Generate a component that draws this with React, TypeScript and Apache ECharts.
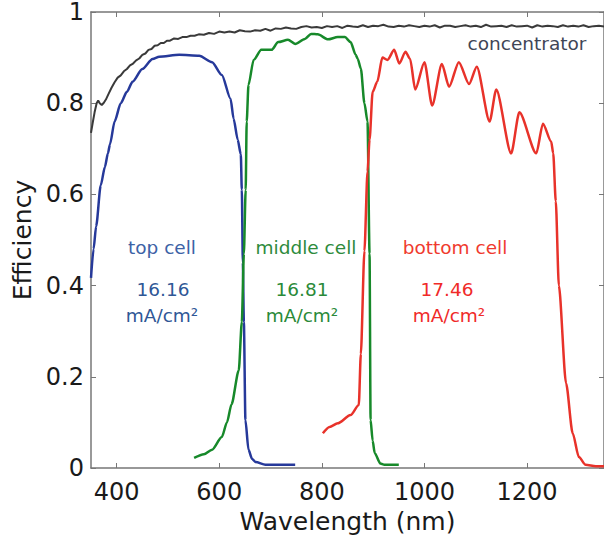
import React, { useEffect, useRef } from "react";
import * as echarts from "echarts";

const xTicks = [400, 600, 800, 1000, 1200];
const yTicks = [0, 0.2, 0.4, 0.6, 0.8, 1];

const concentrator: [number, number][] = [
  [350, 0.735], [353, 0.755], [357, 0.78], [361, 0.8], [364, 0.806], [367, 0.8], [371, 0.796],
  [375, 0.801], [379, 0.808], [384, 0.82], [390, 0.834], [396, 0.846], [402, 0.856], [408, 0.861],
  [414, 0.87], [420, 0.875], [426, 0.883], [432, 0.887], [438, 0.894], [444, 0.898], [450, 0.906],
  [456, 0.909], [462, 0.917], [468, 0.919], [474, 0.926], [480, 0.927], [486, 0.932], [492, 0.932],
  [498, 0.937], [504, 0.937], [512, 0.942], [520, 0.941], [528, 0.945], [536, 0.945], [544, 0.948],
  [552, 0.948], [560, 0.951], [570, 0.95], [580, 0.954], [590, 0.952], [600, 0.957], [610, 0.955],
  [620, 0.957], [630, 0.955], [640, 0.96], [650, 0.958], [660, 0.957], [670, 0.96], [680, 0.959],
  [690, 0.963], [700, 0.959], [710, 0.964], [720, 0.963], [730, 0.966], [740, 0.964], [750, 0.963],
  [760, 0.967], [770, 0.969], [780, 0.966], [790, 0.967], [800, 0.965], [810, 0.969], [820, 0.967],
  [830, 0.969], [840, 0.965], [850, 0.97], [860, 0.968], [870, 0.967], [880, 0.971], [890, 0.967],
  [900, 0.97], [910, 0.969], [920, 0.972], [930, 0.968], [940, 0.967], [950, 0.97], [960, 0.968],
  [970, 0.971], [980, 0.969], [990, 0.967], [1000, 0.97], [1010, 0.968], [1020, 0.971], [1030, 0.966],
  [1040, 0.97], [1050, 0.97], [1060, 0.967], [1070, 0.969], [1080, 0.971], [1090, 0.968], [1100, 0.97],
  [1110, 0.967], [1120, 0.972], [1130, 0.968], [1140, 0.969], [1150, 0.97], [1160, 0.967], [1170, 0.971],
  [1180, 0.968], [1190, 0.969], [1200, 0.97], [1210, 0.966], [1220, 0.971], [1230, 0.968], [1240, 0.97],
  [1250, 0.969], [1260, 0.967], [1270, 0.971], [1280, 0.968], [1290, 0.97], [1300, 0.968], [1310, 0.971],
  [1320, 0.967], [1330, 0.969], [1340, 0.97], [1350, 0.968],
];

const topCell: [number, number][] = [
  [350, 0.417], [355, 0.48], [360, 0.53], [369, 0.62], [377, 0.66], [383, 0.69], [387, 0.71],
  [396, 0.76], [408, 0.8], [420, 0.825], [431, 0.847], [450, 0.875], [470, 0.897], [483, 0.902],
  [522, 0.906], [561, 0.904], [586, 0.89], [605, 0.862], [622, 0.81], [628, 0.766], [636, 0.72],
  [642, 0.688], [644, 0.61], [646, 0.45], [648, 0.32], [651, 0.105], [657, 0.04], [664, 0.02],
  [671, 0.013], [690, 0.007], [748, 0.007],
];

const middleCell: [number, number][] = [
  [551, 0.022], [570, 0.03], [586, 0.04], [605, 0.068], [615, 0.1], [624, 0.14], [638, 0.214],
  [644, 0.32], [648, 0.47], [651.5, 0.61], [653.5, 0.76], [657, 0.84], [667, 0.895], [682, 0.917],
  [702, 0.917], [715, 0.934], [734, 0.939], [748, 0.93], [767, 0.941], [779, 0.952], [792, 0.951],
  [812, 0.94], [831, 0.945], [845, 0.945], [856, 0.934], [866, 0.906], [870, 0.897], [876, 0.876],
  [883, 0.8], [889, 0.76], [893, 0.47], [895, 0.105], [899, 0.06], [903, 0.033], [914, 0.01],
  [922, 0.007], [950, 0.007],
];

const bottomCell: [number, number][] = [
  [802, 0.076], [815, 0.09], [831, 0.098], [856, 0.116], [872, 0.138], [876, 0.25], [883, 0.476],
  [889, 0.65], [893, 0.72], [899, 0.825], [908, 0.847], [918, 0.9], [928, 0.895], [941, 0.917],
  [951, 0.887], [963, 0.913], [972, 0.897], [982, 0.83], [1000, 0.89], [1015, 0.795], [1034, 0.886],
  [1048, 0.836], [1067, 0.89], [1087, 0.842], [1102, 0.88], [1127, 0.76], [1140, 0.83], [1169, 0.69],
  [1185, 0.78], [1218, 0.69], [1231, 0.755], [1247, 0.716], [1251, 0.69], [1256, 0.585], [1262, 0.4],
  [1276, 0.186], [1289, 0.076], [1301, 0.024], [1314, 0.007], [1334, 0.004], [1350, 0.004],
];

const annotations = [
  { text: "top cell", x: 162, y: 247, color: "#3d62a6" },
  { text: "16.16", x: 163, y: 289, color: "#2f5796" },
  { text: "mA/cm²", x: 162, y: 315, color: "#2f5796" },
  { text: "middle cell", x: 306, y: 247, color: "#2e8b3c" },
  { text: "16.81", x: 302, y: 289, color: "#2a8a38" },
  { text: "mA/cm²", x: 302, y: 315, color: "#2a8a38" },
  { text: "bottom cell", x: 455, y: 247, color: "#f03a2e" },
  { text: "17.46", x: 447, y: 289, color: "#f02a28" },
  { text: "mA/cm²", x: 449, y: 315, color: "#f02a28" },
  { text: "concentrator", x: 527, y: 43, color: "#3f4656" },
];

const FONT = "DejaVu Sans";
const AXIS_COLOR = "#777777";

export default function App() {
  const ref = useRef<HTMLDivElement>(null);
  useEffect(() => {
    if (!ref.current) return;
    const chart = echarts.init(ref.current, undefined, { renderer: "svg" });
    const lineCommon = {
      type: "line" as const,
      showSymbol: false,
      symbol: "none",
      smoothMonotone: "x" as const,
    };
    chart.setOption({
      animation: false,
      backgroundColor: "#ffffff",
      grid: { left: 91, right: -4.5, top: 11, bottom: 72 },
      xAxis: [
        {
          type: "value",
          min: 350,
          max: 1350,
          position: "bottom",
          name: "Wavelength (nm)",
          nameLocation: "middle",
          nameGap: 37,
          nameTextStyle: { fontFamily: FONT, fontSize: 25, color: "#1a1a1a" },
          axisLine: { show: true, onZero: false, lineStyle: { color: AXIS_COLOR, width: 1.5 } },
          axisTick: { show: true, inside: true, length: 5, customValues: xTicks, lineStyle: { color: AXIS_COLOR } },
          axisLabel: {
            customValues: xTicks,
            margin: 12,
            fontFamily: FONT,
            fontSize: 24,
            color: "#1a1a1a",
            formatter: (v: number) => String(v),
          },
          splitLine: { show: false },
        },
        {
          type: "value",
          min: 350,
          max: 1350,
          position: "top",
          axisLine: { show: true, onZero: false, lineStyle: { color: AXIS_COLOR, width: 1.5 } },
          axisTick: { show: true, inside: true, length: 5, customValues: xTicks, lineStyle: { color: AXIS_COLOR } },
          axisLabel: { show: false },
          splitLine: { show: false },
        },
      ],
      yAxis: [
        {
          type: "value",
          min: 0,
          max: 1,
          interval: 0.2,
          position: "left",
          name: "Efficiency",
          nameLocation: "middle",
          nameGap: 53,
          nameTextStyle: { fontFamily: FONT, fontSize: 25, color: "#1a1a1a" },
          axisLine: { show: true, onZero: false, lineStyle: { color: AXIS_COLOR, width: 1.5 } },
          axisTick: { show: true, inside: true, length: 5, lineStyle: { color: AXIS_COLOR } },
          axisLabel: {
            margin: 7,
            fontFamily: FONT,
            fontSize: 24,
            lineHeight: 22,
            color: "#1a1a1a",
            formatter: (v: number) => {
              const t = yTicks.find((k) => Math.abs(k - v) < 1e-6);
              return t === undefined ? "" : String(t);
            },
          },
          splitLine: { show: false },
        },
        {
          type: "value",
          min: 0,
          max: 1,
          interval: 0.2,
          position: "right",
          axisLine: { show: true, onZero: false, lineStyle: { color: AXIS_COLOR, width: 1.5 } },
          axisTick: { show: true, inside: true, length: 5, lineStyle: { color: AXIS_COLOR } },
          axisLabel: { show: false },
          splitLine: { show: false },
        },
      ],
      series: [
        {
          ...lineCommon,
          name: "concentrator",
          data: concentrator,
          lineStyle: { color: "#3a3a3a", width: 2 },
        },
        {
          ...lineCommon,
          name: "top cell",
          data: topCell,
          smooth: 0.25,
          lineStyle: { color: "#26399a", width: 2.5 },
        },
        {
          ...lineCommon,
          name: "middle cell",
          data: middleCell,
          smooth: 0.25,
          lineStyle: { color: "#17892a", width: 2.5 },
        },
        {
          ...lineCommon,
          name: "bottom cell",
          data: bottomCell,
          smooth: 0.25,
          lineStyle: { color: "#e8322a", width: 2.5 },
        },
      ],
      graphic: annotations.map((a) => ({
        type: "text",
        x: a.x,
        y: a.y,
        silent: true,
        style: {
          text: a.text,
          fill: a.color,
          fontFamily: FONT,
          fontSize: 18.5,
          align: "center",
          verticalAlign: "middle",
          textAlign: "center",
          textVerticalAlign: "middle",
        },
      })),
    });
    return () => chart.dispose();
  }, []);
  return (
    <div
      ref={ref}
      style={{ position: "absolute", left: 0, top: 0, width: 604, height: 540, overflow: "hidden" }}
    />
  );
}
